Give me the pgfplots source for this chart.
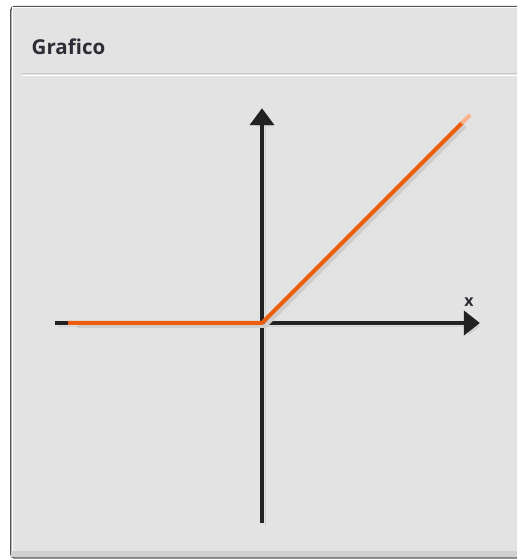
\documentclass[border=0pt]{standalone}
\usepackage{pgfplots}
\pgfplotsset{compat=1.18}
\usepackage{fontspec}
\setmainfont{Open Sans}
\usetikzlibrary{arrows.meta}

\definecolor{panelbg}{RGB}{227,227,227}
\definecolor{panelborder}{RGB}{85,85,85}
\definecolor{sepdark}{RGB}{200,200,204}
\definecolor{bottomband}{RGB}{208,208,208}
\definecolor{axiscol}{RGB}{34,34,34}
\definecolor{shadowcol}{RGB}{205,205,205}
\definecolor{relu}{RGB}{236,94,14}
\definecolor{relufade}{RGB}{248,178,140}
\definecolor{titlecol}{RGB}{45,45,55}

\begin{document}
\begin{tikzpicture}[x=1bp,y=1bp]
  \useasboundingbox (0,0) rectangle (517,559);
  \clip (0,0) rectangle (517,559);
  \fill[white] (0,0) rectangle (517,559);
  % window panel
  \draw[panelborder, line width=1.4bp, fill=panelbg, rounded corners=4bp]
    (540,1) -- (10.7,1) -- (10.7,552.5) -- (540,552.5);
  \draw[white, line width=1bp] (12,3) -- (12,551) -- (540,551);
  \fill[bottomband] (11.4,2) rectangle (540,8);
  % header separator
  \draw[sepdark, line width=1.6bp] (22,485.5) -- (540,485.5);
  \draw[white, line width=1.4bp] (22,483.5) -- (540,483.5);
  % title
  \node[anchor=base west, inner sep=0pt, text=titlecol,
        font=\fontsize{20.5bp}{24bp}\selectfont\bfseries] at (31.5,504) {Grafico};

  \begin{axis}[
    anchor=origin, at={(262bp,236bp)},
    x=52bp, y=52bp,
    xmin=-3.98, xmax=4.19, ymin=-3.85, ymax=4.13,
    axis lines=middle,
    ticks=none,
    clip=false,
    axis line style={line width=4bp, draw=axiscol},
    every inner x axis line/.append style={-{Triangle[width=24bp,length=16bp]},
      preaction={draw=shadowcol, fill=shadowcol, transform canvas={shift={(3bp,-3bp)}}}},
    every inner y axis line/.append style={-{Triangle[width=24bp,length=17bp]},
      preaction={draw=shadowcol, fill=shadowcol, transform canvas={shift={(3bp,-3bp)}}}},
    xlabel={x},
    every axis x label/.style={at={(axis cs:3.98,0.41)}, anchor=center,
      font=\fontsize{16bp}{18bp}\selectfont\bfseries, text=titlecol, inner sep=0pt},
  ]
    % ReLU: zero for x<0, identity for x>=0
    \addplot[shadowcol, line width=4bp, line join=round,
      transform canvas={shift={(3bp,-3bp)}}]
      coordinates {(-3.6,0) (0,0) (3.85,3.85)};
    \addplot[relu, line width=4bp, line join=round]
      coordinates {(-3.73,0) (0,0) (3.85,3.85)};
    \addplot[relufade, line width=4bp]
      coordinates {(3.84,3.84) (4.0,4.0)};
  \end{axis}
\end{tikzpicture}
\end{document}
